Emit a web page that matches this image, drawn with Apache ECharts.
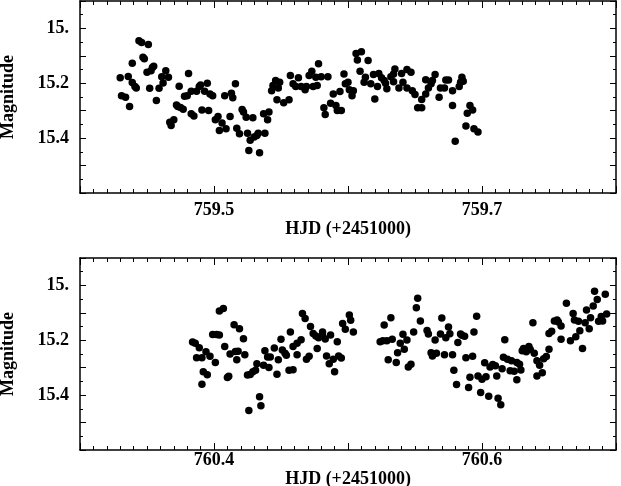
<!DOCTYPE html>
<html>
<head>
<meta charset="utf-8">
<script src="https://cdn.jsdelivr.net/npm/echarts@6/dist/echarts.min.js"></script>
<style>
  html, body { margin: 0; padding: 0; background: #fff; }
  #chart { width: 621px; height: 486px; }
</style>
</head>
<body>
<div id="chart"></div>
<script>
// night 1 (HJD 2451759.x)
const topHjd = [
  759.430, 759.431, 759.434, 759.436, 759.437, 759.439, 759.439, 759.441, 759.442, 759.444,
  759.446, 759.447, 759.448, 759.450, 759.451, 759.453, 759.454, 759.455, 759.452, 759.457,
  759.459, 759.461, 759.462, 759.464, 759.466, 759.467, 759.468, 759.470, 759.472, 759.473,
  759.474, 759.475, 759.477, 759.478, 759.480, 759.481, 759.483, 759.483, 759.485, 759.487,
  759.489, 759.490, 759.491, 759.493, 759.495, 759.497, 759.496, 759.499, 759.501, 759.503,
  759.504, 759.506, 759.509, 759.508, 759.512, 759.513, 759.514, 759.516, 759.517, 759.519,
  759.521, 759.522, 759.524, 759.525, 759.526, 759.527, 759.529, 759.530, 759.532, 759.533,
  759.534, 759.537, 759.538, 759.540, 759.541, 759.543, 759.544, 759.546, 759.547, 759.549,
  759.548, 759.552, 759.556, 759.557, 759.559, 759.561, 759.563, 759.565, 759.568, 759.569,
  759.571, 759.573, 759.574, 759.576, 759.578, 759.577, 759.580, 759.582, 759.583, 759.585,
  759.587, 759.589, 759.591, 759.592, 759.595, 759.594, 759.597, 759.598, 759.600, 759.601,
  759.603, 759.604, 759.606, 759.607, 759.610, 759.609, 759.612, 759.613, 759.615, 759.617,
  759.619, 759.620, 759.622, 759.623, 759.625, 759.627, 759.628, 759.629, 759.632, 759.634,
  759.635, 759.634, 759.638, 759.640, 759.641, 759.644, 759.644, 759.647, 759.648, 759.650,
  759.652, 759.655, 759.655, 759.658, 759.658, 759.660, 759.662, 759.663, 759.665, 759.668,
  759.669, 759.672, 759.673, 759.675, 759.678, 759.678, 759.680, 759.683, 759.684, 759.685,
  759.686, 759.688, 759.689, 759.691, 759.693, 759.694, 759.697
];
const topMag = [
  15.180, 15.245, 15.251, 15.175, 15.285, 15.127, 15.197, 15.212, 15.217, 15.045,
  15.051, 15.105, 15.111, 15.160, 15.059, 15.154, 15.142, 15.138, 15.218, 15.263,
  15.218, 15.176, 15.199, 15.154, 15.178, 15.342, 15.354, 15.333, 15.279, 15.285,
  15.211, 15.288, 15.295, 15.247, 15.245, 15.164, 15.229, 15.311, 15.319, 15.229,
  15.212, 15.206, 15.297, 15.229, 15.200, 15.239, 15.299, 15.245, 15.333, 15.321,
  15.372, 15.345, 15.366, 15.245, 15.321, 15.236, 15.253, 15.202, 15.364, 15.384,
  15.296, 15.305, 15.324, 15.382, 15.445, 15.408, 15.326, 15.396, 15.390, 15.382,
  15.453, 15.311, 15.382, 15.333, 15.305, 15.227, 15.208, 15.190, 15.260, 15.196,
  15.217, 15.271, 15.260, 15.172, 15.202, 15.212, 15.180, 15.212, 15.224, 15.212,
  15.172, 15.156, 15.212, 15.178, 15.129, 15.208, 15.176, 15.289, 15.314, 15.176,
  15.273, 15.239, 15.281, 15.299, 15.299, 15.230, 15.166, 15.202, 15.196, 15.224,
  15.245, 15.227, 15.091, 15.115, 15.085, 15.156, 15.196, 15.178, 15.117, 15.202,
  15.168, 15.257, 15.212, 15.164, 15.180, 15.190, 15.200, 15.220, 15.176, 15.166,
  15.148, 15.194, 15.217, 15.164, 15.196, 15.217, 15.150, 15.160, 15.227, 15.241,
  15.289, 15.289, 15.259, 15.239, 15.187, 15.217, 15.202, 15.190, 15.168, 15.251,
  15.217, 15.217, 15.188, 15.188, 15.227, 15.281, 15.411, 15.212, 15.196, 15.178,
  15.193, 15.356, 15.309, 15.281, 15.297, 15.366, 15.378
];

// night 2 (HJD 2451760.x)
const bottomHjd = [
  760.384, 760.386, 760.389, 760.387, 760.391, 760.391, 760.392, 760.394, 760.395, 760.397,
  760.399, 760.402, 760.404, 760.401, 760.404, 760.407, 760.408, 760.410, 760.411, 760.412,
  760.415, 760.416, 760.418, 760.417, 760.419, 760.422, 760.423, 760.425, 760.427, 760.426,
  760.429, 760.431, 760.432, 760.434, 760.435, 760.437, 760.438, 760.440, 760.442, 760.441,
  760.445, 760.447, 760.448, 760.450, 760.451, 760.453, 760.454, 760.456, 760.459, 760.457,
  760.459, 760.462, 760.462, 760.465, 760.466, 760.468, 760.469, 760.471, 760.472, 760.474,
  760.476, 760.477, 760.478, 760.481, 760.481, 760.483, 760.484, 760.486, 760.487, 760.489,
  760.490, 760.492, 760.493, 760.495, 760.496, 760.498, 760.501, 760.502, 760.504, 760.524,
  760.526, 760.527, 760.529, 760.530, 760.532, 760.533, 760.536, 760.537, 760.539, 760.541,
  760.542, 760.544, 760.545, 760.547, 760.549, 760.551, 760.552, 760.554, 760.559, 760.560,
  760.562, 760.563, 760.565, 760.566, 760.569, 760.570, 760.572, 760.573, 760.575, 760.576,
  760.578, 760.579, 760.581, 760.582, 760.584, 760.585, 760.587, 760.588, 760.590, 760.591,
  760.593, 760.594, 760.596, 760.597, 760.599, 760.600, 760.602, 760.603, 760.605, 760.606,
  760.608, 760.610, 760.611, 760.612, 760.614, 760.615, 760.617, 760.616, 760.619, 760.621,
  760.622, 760.624, 760.626, 760.626, 760.628, 760.629, 760.630, 760.631, 760.633, 760.635,
  760.636, 760.638, 760.639, 760.641, 760.641, 760.643, 760.645, 760.646, 760.648, 760.650,
  760.650, 760.652, 760.654, 760.656, 760.657, 760.659, 760.659, 760.663, 760.666, 760.668,
  760.669, 760.670, 760.672, 760.673, 760.675, 760.677, 760.678, 760.680, 760.681, 760.683,
  760.684, 760.686, 760.687, 760.689, 760.690, 760.692, 760.693
];
const bottomMag = [
  15.206, 15.211, 15.227, 15.264, 15.264, 15.360, 15.315, 15.242, 15.326, 15.258,
  15.179, 15.179, 15.181, 15.281, 15.093, 15.084, 15.223, 15.336, 15.331, 15.250,
  15.143, 15.241, 15.240, 15.271, 15.158, 15.194, 15.253, 15.327, 15.325, 15.456,
  15.315, 15.309, 15.286, 15.406, 15.439, 15.291, 15.238, 15.261, 15.261, 15.299,
  15.228, 15.324, 15.271, 15.196, 15.235, 15.247, 15.255, 15.309, 15.307, 15.170,
  15.223, 15.253, 15.211, 15.198, 15.102, 15.121, 15.269, 15.258, 15.150, 15.175,
  15.184, 15.230, 15.191, 15.170, 15.182, 15.195, 15.257, 15.286, 15.181, 15.269,
  15.315, 15.205, 15.257, 15.265, 15.139, 15.160, 15.108, 15.127, 15.170, 15.205,
  15.202, 15.144, 15.202, 15.271, 15.118, 15.196, 15.281, 15.245, 15.211, 15.178,
  15.233, 15.199, 15.297, 15.287, 15.170, 15.081, 15.047, 15.130, 15.164, 15.177,
  15.245, 15.257, 15.199, 15.247, 15.177, 15.119, 15.253, 15.191, 15.152, 15.176,
  15.253, 15.309, 15.361, 15.208, 15.177, 15.182, 15.185, 15.264, 15.372, 15.335,
  15.258, 15.170, 15.112, 15.330, 15.390, 15.342, 15.282, 15.333, 15.404, 15.297,
  15.288, 15.293, 15.330, 15.411, 15.435, 15.304, 15.198, 15.262, 15.269, 15.311,
  15.275, 15.313, 15.281, 15.344, 15.287, 15.308, 15.238, 15.230, 15.242, 15.223,
  15.234, 15.136, 15.247, 15.330, 15.275, 15.291, 15.318, 15.267, 15.259, 15.233,
  15.175, 15.167, 15.130, 15.126, 15.133, 15.148, 15.196, 15.065, 15.202, 15.102,
  15.126, 15.187, 15.131, 15.165, 15.230, 15.136, 15.090, 15.158, 15.118, 15.075,
  15.021, 15.051, 15.131, 15.113, 15.130, 15.032, 15.104
];

const topTickLabels = ['759.5', '759.7'];
const bottomTickLabels = ['760.4', '760.6'];
const magTickLabels = ['15.', '15.2', '15.4'];

const FONT = 'Liberation Serif';
const textStyle = { fontFamily: FONT, fontWeight: 'bold', fontSize: 18, color: '#000' };

function labelFormatter(labels) {
  const vals = labels.map(Number);
  return (v) => {
    const i = vals.findIndex(t => Math.abs(t - v) < 1e-6);
    return i >= 0 ? labels[i] : '';
  };
}

function xAxes(gridIndex, min, max, labels, labelMargin, nameGap) {
  const common = {
    gridIndex, type: 'value', min, max, interval: 0.1,
    axisLine: { lineStyle: { color: '#000', width: 1.5 } },
    axisTick: { inside: true, length: 7, lineStyle: { color: '#000' } },
    minorTick: { show: true, splitNumber: 10, length: 4, lineStyle: { color: '#000' } },
    splitLine: { show: false },
    minorSplitLine: { show: false }
  };
  return [
    {
      ...common,
      position: 'bottom',
      name: 'HJD (+2451000)',
      nameLocation: 'middle',
      nameGap,
      nameTextStyle: textStyle,
      axisLabel: { ...textStyle, margin: labelMargin, formatter: labelFormatter(labels) }
    },
    { ...common, position: 'top', axisLabel: { show: false } }
  ];
}

function yAxes(gridIndex) {
  const common = {
    gridIndex, type: 'value', inverse: true, min: 14.9, max: 15.6, interval: 0.1,
    axisLine: { show: true, lineStyle: { color: '#000', width: 1.5 } },
    axisTick: { show: true, inside: true, length: 6, lineStyle: { color: '#000' } },
    minorTick: { show: true, splitNumber: 2, length: 3, lineStyle: { color: '#000' } },
    splitLine: { show: false },
    minorSplitLine: { show: false }
  };
  return [
    {
      ...common,
      position: 'left',
      name: 'Magnitude',
      nameLocation: 'middle',
      nameGap: 63,
      nameTextStyle: textStyle,
      axisLabel: { ...textStyle, margin: 11, formatter: labelFormatter(magTickLabels) }
    },
    { ...common, position: 'right', axisLabel: { show: false } }
  ];
}

function dots(hjd, mag, axisIndex) {
  return {
    type: 'scatter',
    xAxisIndex: axisIndex,
    yAxisIndex: axisIndex,
    data: hjd.map((x, i) => [x, mag[i]]),
    symbol: 'circle',
    symbolSize: 7.5,
    itemStyle: { color: '#000', opacity: 1 },
    emphasis: { disabled: true },
    silent: true
  };
}

const chart = echarts.init(document.getElementById('chart'));

chart.setOption({
  animation: false,
  backgroundColor: '#fff',
  grid: [
    { left: 80, top: 1, width: 536, height: 192, outerBoundsMode: 'none' },
    { left: 80, top: 258, width: 536, height: 192, outerBoundsMode: 'none' }
  ],
  xAxis: [
    ...xAxes(0, 759.4, 759.8, topTickLabels, 8, 17),
    ...xAxes(1, 760.3, 760.7, bottomTickLabels, 1, 16)
  ],
  yAxis: [
    ...yAxes(0),
    ...yAxes(1)
  ],
  series: [
    dots(topHjd, topMag, 0),
    dots(bottomHjd, bottomMag, 2)
  ]
});
</script>
</body>
</html>
